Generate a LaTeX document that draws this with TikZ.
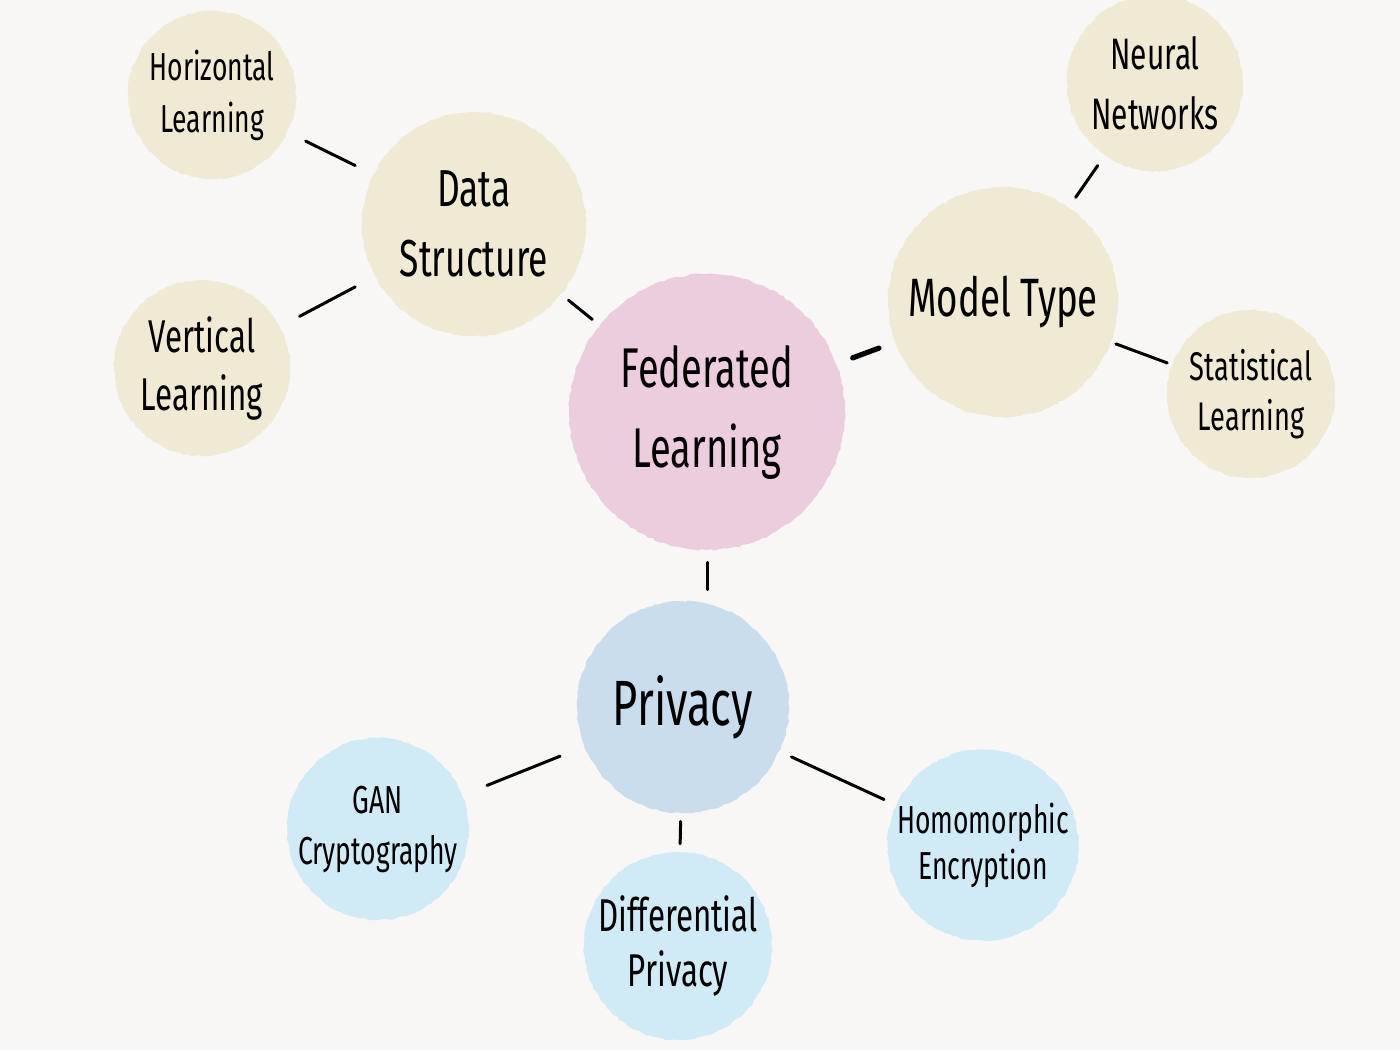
\documentclass[tikz,border=0pt]{standalone}
\usepackage{fontspec}
\setmainfont[FakeStretch=0.68]{Fira Sans}
\usetikzlibrary{decorations.pathmorphing}
\definecolor{bgc}{RGB}{248,247,245}
\definecolor{beige}{RGB}{240,233,211}
\definecolor{pinkc}{RGB}{236,205,222}
\definecolor{bluec}{RGB}{201,221,236}
\definecolor{lblue}{RGB}{208,234,246}
\newcommand{\fs}[2]{\fontsize{#1}{#2}\selectfont}
\begin{document}
\begin{tikzpicture}[x=0.5pt,y=-0.5pt,
  blob/.style={circle,inner sep=0pt,minimum size=#1,align=center,text=black,
    decorate,decoration={random steps,segment length=2pt,amplitude=0.45pt}},
  link/.style={draw=black,line width=1.5pt,line cap=round}]
\pgfmathsetseed{7}
\useasboundingbox (0,0) rectangle (1400,1050);
\fill[bgc] (0,0) rectangle (1400,1050);
% nodes
\node[blob=138pt,fill=pinkc,font=\fs{28}{40}] (fl) at (707,412) {Federated\\Learning};
\node[blob=112pt,fill=beige,font=\fs{26}{35}] (ds) at (474,224) {Data\\Structure};
\node[blob=115pt,fill=beige,font=\fs{27}{36}] (mt) at (1003,302) {Model Type};
\node[blob=106pt,fill=bluec,font=\fs{32}{40}] (pr) at (683,707) {Privacy};
\node[blob=84pt,fill=beige,font=\fs{19.5}{26}] (hl) at (212,95) {Horizontal\\Learning};
\node[blob=88pt,fill=beige,font=\fs{23}{29}] (vl) at (202,368) {Vertical\\Learning};
\node[blob=88pt,fill=beige,font=\fs{22}{30}] (nn) at (1155,83) {Neural\\Networks};
\node[blob=84pt,fill=beige,font=\fs{20}{25}] (sl) at (1251,394) {Statistical\\Learning};
\node[blob=90pt,fill=lblue,font=\fs{19.5}{25.5}] (gan) at (378,829) {GAN\\Cryptography};
\node[blob=88pt,fill=lblue,font=\fs{23}{27.5}] (dp) at (678,946) {Differential\\Privacy};
\node[blob=88pt,fill=lblue,font=\fs{19.5}{23}] (he) at (983,845) {Homomorphic\\Encryption};
% connectors
\draw[link,shorten <=10pt,shorten >=10pt] (hl) -- (ds);
\draw[link,shorten <=11pt,shorten >=11pt] (vl) -- (ds);
\draw[link,shorten <=4.5pt,shorten >=4.5pt] (ds) -- (fl);
\draw[link,line width=2.6pt,shorten <=8.5pt,shorten >=8.5pt] (fl) -- (mt);
\draw[link,shorten <=6pt,shorten >=6pt] (mt) -- (nn);
\draw[link,shorten <=2.5pt,shorten >=2.5pt] (mt) -- (sl);
\draw[link,shorten <=6pt,shorten >=5.5pt] (fl.south) -- (fl.south |- pr.north);
\draw[link,shorten <=13pt,shorten >=13pt] (pr) -- (gan);
\draw[link,shorten <=4pt,shorten >=4pt] (pr) -- (dp);
\draw[link,shorten <=6.5pt,shorten >=6.5pt] (pr) -- (he);
\end{tikzpicture}
\end{document}
